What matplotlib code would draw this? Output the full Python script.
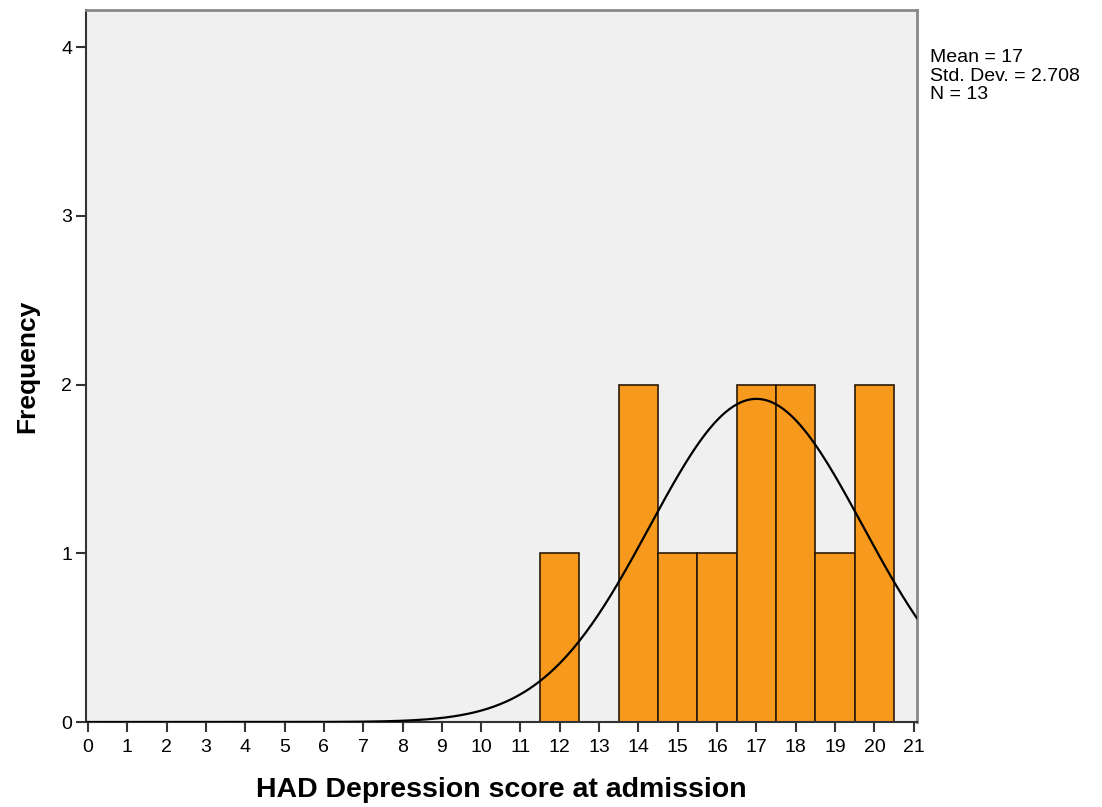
import numpy as np
import matplotlib
matplotlib.use("Agg")
import matplotlib.pyplot as plt

plt.rcParams['font.family'] = ['Liberation Sans', 'DejaVu Sans']

# histogram bins (score -> count)
scores = [12, 14, 15, 16, 17, 18, 19, 20]
counts = [1, 2, 1, 1, 2, 2, 1, 2]
mean = 17
sd = 2.708
n = 13

fig = plt.figure(figsize=(11.02, 8.07), dpi=100)
ax = fig.add_axes([0.078, 0.1053, 0.754, 0.8823])
ax.set_facecolor('#F0F0F0')

ax.bar(scores, counts, width=1.0, color='#F7991D', edgecolor='#2a1a08', linewidth=1.2, zorder=2)

# normal curve scaled to counts
xs = np.linspace(-0.05, 21.08, 400)
ys = n * 1.0 / (sd * np.sqrt(2 * np.pi)) * np.exp(-0.5 * ((xs - mean) / sd) ** 2)
ax.plot(xs, ys, color='black', linewidth=1.6, zorder=3)

ax.set_xlim(-0.05, 21.08)
ax.set_ylim(0, 4.22)
ax.set_xticks(range(0, 22))
ax.set_yticks(range(0, 5))
ax.tick_params(axis='both', direction='out', length=7, width=1.5, color='#333333',
               labelsize=14, pad=3)
ax.tick_params(axis='x', pad=5)

for s in ['left', 'bottom']:
    ax.spines[s].set_color('#333333')
    ax.spines[s].set_linewidth(1.5)
for s in ['top', 'right']:
    ax.spines[s].set_color('#888888')
    ax.spines[s].set_linewidth(2)

ax.set_xlabel('HAD Depression score at admission', fontsize=20.5, fontweight='bold', labelpad=15)
ax.set_ylabel('Frequency', fontsize=19, fontweight='bold', labelpad=16)

fig.text(0.844, 0.939, 'Mean = %d\nStd. Dev. = %.3f\nN = %d' % (mean, sd, n),
         fontsize=14, va='top', ha='left', linespacing=1.12)

fig.savefig('out.png', dpi=100)
